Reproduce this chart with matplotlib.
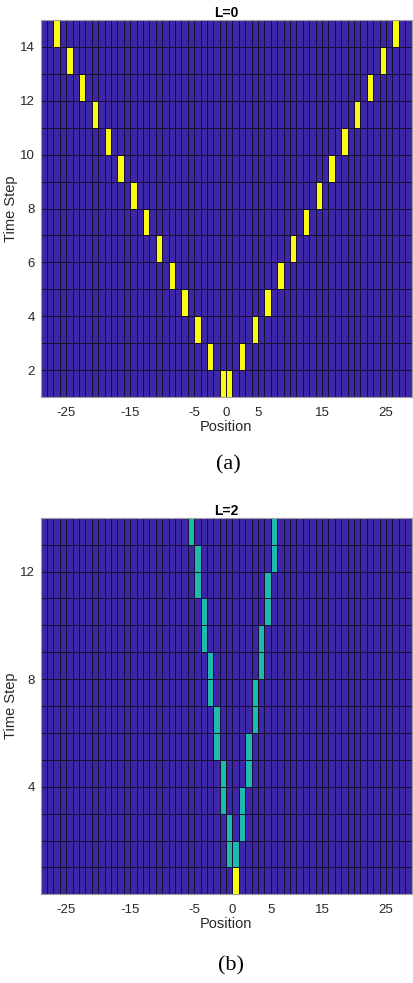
import numpy as np
import matplotlib
matplotlib.use('Agg')
import matplotlib.pyplot as plt
from matplotlib.colors import ListedColormap

plt.rcParams['font.family'] = ['Liberation Sans', 'DejaVu Sans']

# grid extent (cell edges)
x_min, x_max = -29, 29

# panel (a): L=0, rows 1..14, occupied cells (left edge of cell)
rows_a = [1, 2, 3, 4, 5, 6, 7, 8, 9, 10, 11, 12, 13, 14]
left_a = [-1, -3, -5, -7, -9, -11, -13, -15, -17, -19, -21, -23, -25, -27]
right_a = [0, 2, 4, 6, 8, 10, 12, 14, 16, 18, 20, 22, 24, 26]

# panel (b): L=2, rows 0..13
start_row_b = 0
start_cell_b = 1
rows_b = [1, 2, 3, 4, 5, 6, 7, 8, 9, 10, 11, 12, 13]
left_b = [0, 0, -1, -1, -2, -2, -3, -3, -4, -4, -5, -5, -6]
right_b = [1, 2, 2, 3, 3, 4, 4, 5, 5, 6, 6, 7, 7]

# tick labels
yticks_a = [2, 4, 6, 8, 10, 12, 14]
yticks_b = [4, 8, 12]
xticks_a = [-25, -15, -5, 0, 5, 15, 25]
xticks_b = [-25, -15, -5, 1, 7, 15, 25]
xlabels = ['-25', '-15', '-5', '0', '5', '15', '25']

cmap = ListedColormap(['#3E26A8', '#1FBAAE', '#F9FB15'])

W, H = 414, 983
fig = plt.figure(figsize=(W / 100, H / 100), dpi=100)


def make_grid(y0, y1):
    xe = np.arange(x_min, x_max + 1)
    ye = np.arange(y0, y1 + 1)
    z = np.zeros((len(ye) - 1, len(xe) - 1))
    return xe, ye, z


def draw(ax, xe, ye, z, title, xt, yt):
    ax.pcolormesh(xe, ye, z, cmap=cmap, vmin=0, vmax=2,
                  edgecolors='#14102e', linewidth=0.6)
    ax.set_xlim(xe[0], xe[-1])
    ax.set_ylim(ye[0], ye[-1])
    ax.set_xticks(xt)
    ax.set_xticklabels(xlabels)
    ax.set_yticks(yt)
    ax.tick_params(length=0, labelsize=9.5, colors='#262626', pad=7)
    ax.tick_params(axis='y', pad=4)
    for s in ax.spines.values():
        s.set_color('#a0a0a0')
        s.set_linewidth(0.8)
    ax.set_title(title, fontsize=10, fontweight='bold', pad=1)
    ax.set_xlabel('Position', fontsize=10.5, color='#262626', labelpad=1)
    ax.set_ylabel('Time Step', fontsize=10.5, color='#262626')
    # right edge of the rotated label sits ~18 px from the figure edge
    ax.yaxis.set_label_coords((18.5 - 40.7) / 370.8, 0.5)


# panel (a)
xe, ye, za = make_grid(1, 15)
for r, lc, rc in zip(rows_a, left_a, right_a):
    za[r - 1, lc - x_min] = 2
    za[r - 1, rc - x_min] = 2
ax1 = fig.add_axes([40.7 / W, 1 - 397 / H, 370.8 / W, 377 / H])
draw(ax1, xe, ye, za, 'L=0', xticks_a, yticks_a)

# panel (b)
xe, ye, zb = make_grid(0, 14)
zb[start_row_b, start_cell_b - x_min] = 2
for r, lc, rc in zip(rows_b, left_b, right_b):
    zb[r, lc - x_min] = 1
    zb[r, rc - x_min] = 1
ax2 = fig.add_axes([40.7 / W, 1 - 894.3 / H, 370.8 / W, 376.6 / H])
draw(ax2, xe, ye, zb, 'L=2', xticks_b, yticks_b)

fig.text(228 / W, 1 - 465 / H, '(a)', ha='center', va='center',
         family='Liberation Serif', fontsize=16)
fig.text(231 / W, 1 - 966 / H, '(b)', ha='center', va='center',
         family='Liberation Serif', fontsize=16)

fig.savefig('out.png', dpi=100)
